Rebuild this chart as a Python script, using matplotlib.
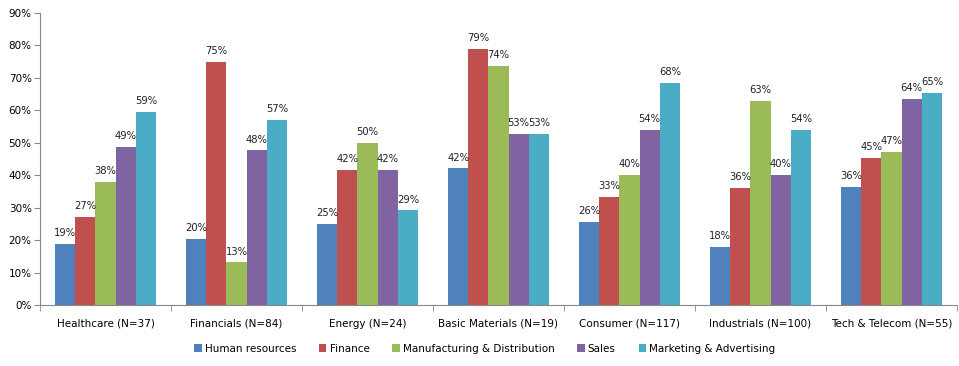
import matplotlib.pyplot as plt
import numpy as np

categories = ["Healthcare (N=37)", "Financials (N=84)", "Energy (N=24)",
              "Basic Materials (N=19)", "Consumer (N=117)", "Industrials (N=100)",
              "Tech & Telecom (N=55)"]
series = ["Human resources", "Finance", "Manufacturing & Distribution", "Sales",
          "Marketing & Advertising"]
human_resources = [18.92, 20.24, 25.00, 42.11, 25.64, 18.00, 36.36]
finance = [27.03, 75.00, 41.67, 78.95, 33.33, 36.00, 45.45]
manufacturing = [37.84, 13.10, 50.00, 73.68, 40.17, 63.00, 47.27]
sales = [48.65, 47.62, 41.67, 52.63, 53.85, 40.00, 63.64]
marketing = [59.46, 57.14, 29.17, 52.63, 68.38, 54.00, 65.45]
colors = ["#4F81BD", "#C0504D", "#9BBB59", "#8064A2", "#4BACC6"]

values = [human_resources, finance, manufacturing, sales, marketing]

fig = plt.figure(figsize=(9.59, 3.66), dpi=100)
ax = fig.add_axes([40 / 959, 61 / 366, 917 / 959, 292 / 366])

x = np.arange(len(categories))
w = 0.154
for i, (name, vals, c) in enumerate(zip(series, values, colors)):
    pos = x + (i - 2) * w
    ax.bar(pos, vals, width=w, color=c, label=name, zorder=2)
    for p, v in zip(pos, vals):
        ax.text(p, v + 1.8, f"{v:.0f}%", ha="center", va="bottom", fontsize=7.2,
                color="#222222")

ax.set_xlim(-0.5, len(categories) - 0.5)
ax.set_ylim(0, 90)
ax.set_yticks(range(0, 91, 10))
ax.set_yticklabels([f"{t}%" for t in range(0, 91, 10)], fontsize=7.5)
ax.set_xticks(x)
ax.set_xticklabels(categories, fontsize=7.5)
ax.tick_params(axis="x", length=0, pad=10)
ax.set_xticks(np.arange(-0.5, len(categories), 1), minor=True)
ax.tick_params(axis="x", which="minor", length=4, direction="out", color="#888888")
ax.tick_params(axis="y", length=4, direction="out", color="#888888", pad=2)
for s in ["top", "right"]:
    ax.spines[s].set_visible(False)
for s in ["left", "bottom"]:
    ax.spines[s].set_color("#888888")

ax.legend(loc="upper center", bbox_to_anchor=(0.485, -0.1), ncol=5, frameon=False,
          fontsize=7.5, handlelength=0.7, handleheight=0.7, handletextpad=0.3,
          columnspacing=2.2)

fig.savefig("out.png", dpi=100)
